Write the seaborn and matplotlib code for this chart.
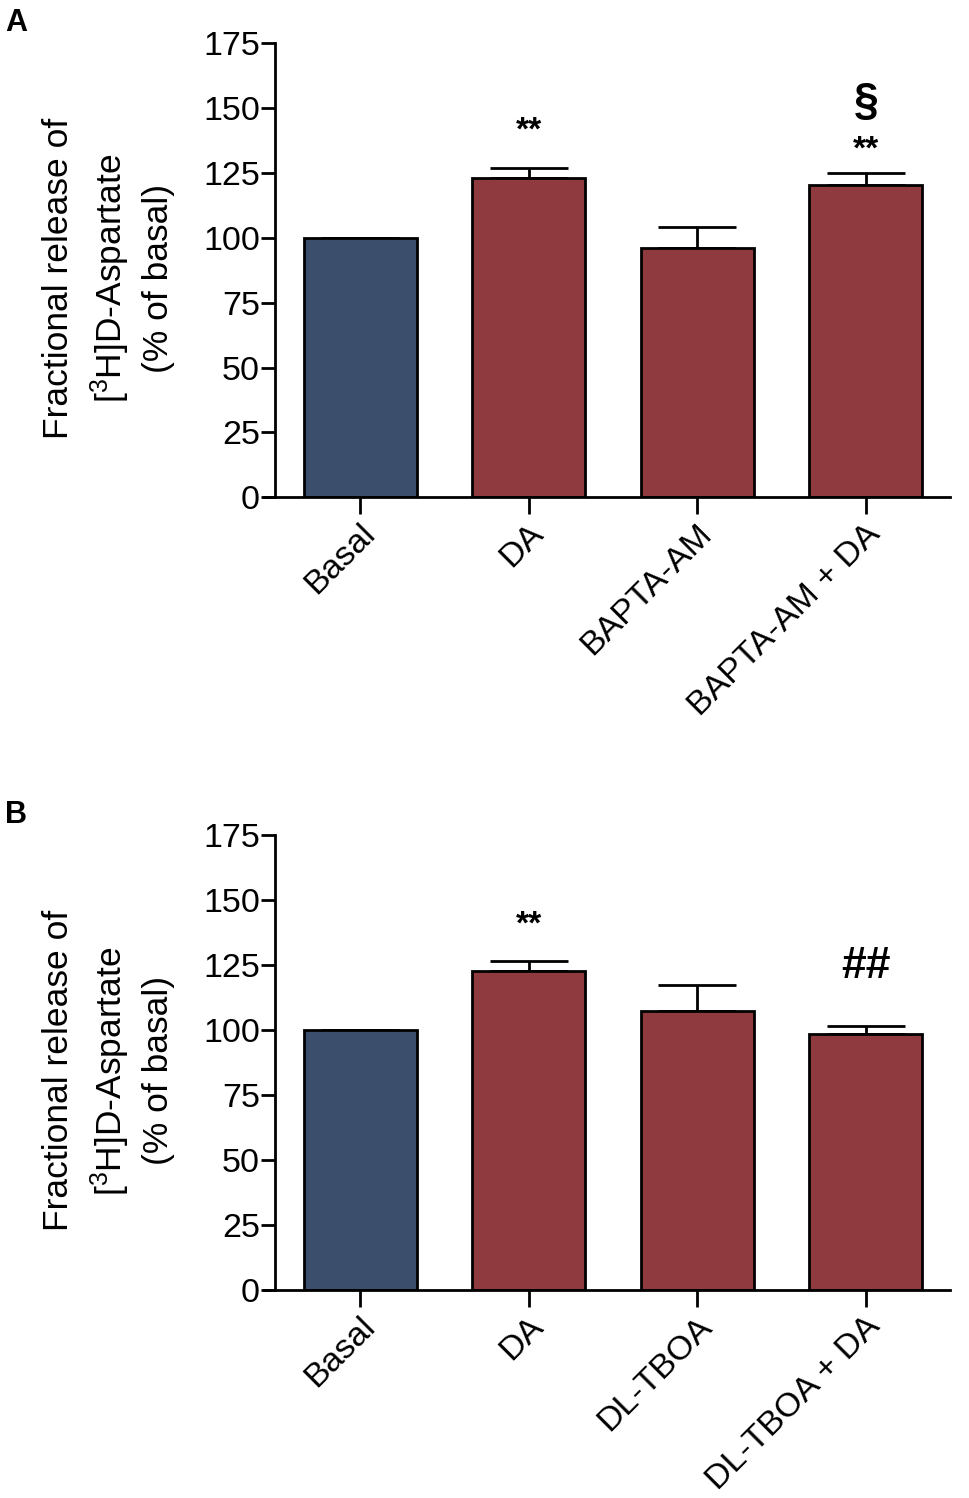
import numpy as np
import pandas as pd
import matplotlib
matplotlib.use('Agg')
import matplotlib.pyplot as plt
import matplotlib.transforms as mtransforms
import seaborn as sns

# panel A
groups_a = ['Basal', 'DA', 'BAPTA-AM', 'BAPTA-AM + DA']
mean_a = [100.0, 123.0, 96.2, 120.5]
sem_a = [0.0, 3.9, 8.1, 4.6]
# panel B
groups_b = ['Basal', 'DA', 'DL-TBOA', 'DL-TBOA + DA']
mean_b = [100.0, 122.9, 107.5, 98.5]
sem_b = [0.0, 3.9, 9.9, 3.2]

# significance marks: (bar index, y position, text, fontsize)
marks_a = [(1, 141, '**', 24), (3, 134, '**', 24), (3, 152, '§', 32)]
marks_b = [(1, 140.5, '**', 24), (3, 124.5, '##', 32)]

yticks = [0, 25, 50, 75, 100, 125, 150, 175]
colors = ['#3b4f6c', '#8e3a3f', '#8e3a3f', '#8e3a3f']
ylabel = 'Fractional release of\n[$^3$H]D-Aspartate\n(% of basal)'

sns.set_style('white')
plt.rcParams['font.family'] = ['Liberation Sans', 'DejaVu Sans']
plt.rcParams['text.color'] = 'black'
plt.rcParams['axes.labelcolor'] = 'black'
plt.rcParams['xtick.color'] = 'black'
plt.rcParams['ytick.color'] = 'black'
plt.rcParams['mathtext.fontset'] = 'custom'
plt.rcParams['mathtext.rm'] = 'Liberation Sans'
plt.rcParams['mathtext.it'] = 'Liberation Sans'

fig = plt.figure(figsize=(9.7, 14.98), dpi=100)
ax_a = fig.add_axes([0.2719, 0.668, 0.7075, 0.3031])
ax_b = fig.add_axes([0.2719, 0.1389, 0.7075, 0.3035])


def draw_panel(ax, groups, means, sems, marks):
    df = pd.DataFrame({'group': groups, 'value': means})
    sns.barplot(data=df, x='group', y='value', hue='group', palette=colors,
                saturation=1, legend=False, width=0.67, edgecolor='black',
                linewidth=2, errorbar=None, ax=ax, zorder=2)
    xs = np.arange(len(groups))
    up = [s if s > 0 else np.nan for s in sems]
    ax.errorbar(xs, means, yerr=[np.zeros(len(up)), up], fmt='none',
                ecolor='black', elinewidth=2, capsize=28, capthick=2, zorder=1)
    for i, y, t, fs in marks:
        ax.text(i, y, t, ha='center', va='center', fontsize=fs,
                fontweight='bold', color='black')
    ax.set_xlim(-0.573, 3.5)
    ax.set_ylim(0, 175)
    ax.set_yticks(yticks)
    ax.spines['top'].set_visible(False)
    ax.spines['right'].set_visible(False)
    ax.spines['left'].set_position(('data', -0.505))
    ax.spines['left'].set_bounds(0, 175)
    for s in ['left', 'bottom']:
        ax.spines[s].set_linewidth(2)
        ax.spines[s].set_color('black')
    ax.tick_params(axis='y', direction='out', length=10, width=2,
                   labelsize=24.5, pad=1, left=True)
    ax.tick_params(axis='x', direction='out', length=12, width=2,
                   labelsize=24.5, pad=8, bottom=True)
    shift = mtransforms.ScaledTranslation(10 / 100, -4 / 100, fig.dpi_scale_trans)
    for lab in ax.get_xticklabels():
        lab.set_rotation(45)
        lab.set_ha('right')
        lab.set_va('center')
        lab.set_rotation_mode('anchor')
        lab.set_transform(lab.get_transform() + shift)
    ax.set_xlabel('')
    ax.set_ylabel(ylabel, fontsize=25.5, linespacing=1.4)
    ax.yaxis.set_label_coords(-0.129, 0.482)


draw_panel(ax_a, groups_a, mean_a, sem_a, marks_a)
draw_panel(ax_b, groups_b, mean_b, sem_b, marks_b)

fig.text(5 / 970, 1 - 8 / 1498, 'A', fontsize=22, fontweight='bold',
         ha='left', va='top')
fig.text(5 / 970, 1 - 800 / 1498, 'B', fontsize=22, fontweight='bold',
         ha='left', va='top')

fig.savefig('out.png', dpi=100)
